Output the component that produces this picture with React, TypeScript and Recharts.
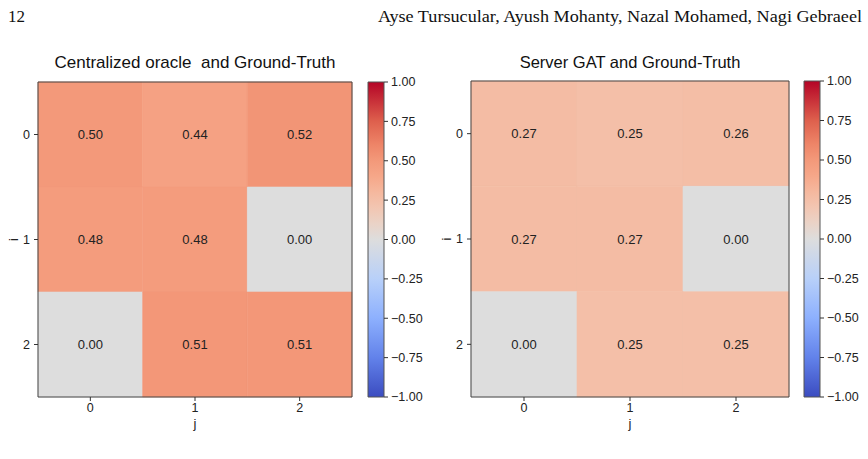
import React from 'react';
import { ScatterChart, Scatter, XAxis, YAxis, ReferenceArea } from 'recharts';

// ---- data ----
const rowIndices = [0, 1, 2];
const colIndices = [0, 1, 2];
const centralizedRow0 = [0.5, 0.44, 0.52];
const centralizedRow1 = [0.48, 0.48, 0.0];
const centralizedRow2 = [0.0, 0.51, 0.51];
const serverGatRow0 = [0.27, 0.25, 0.26];
const serverGatRow1 = [0.27, 0.27, 0.0];
const serverGatRow2 = [0.0, 0.25, 0.25];
const colorbarTicks = [-1, -0.75, -0.5, -0.25, 0, 0.25, 0.5, 0.75, 1];
const colorbarRange = [{ x: 0, y: -1 }, { x: 1, y: 1 }];
const titleLeft = 'Centralized oracle  and Ground-Truth';
const titleRight = 'Server GAT and Ground-Truth';
const pageNumber = '12';
const authors = 'Ayse Tursucular, Ayush Mohanty, Nazal Mohamed, Nagi Gebraeel';

// ---- coolwarm colormap ----
const COOLWARM: [number, [number, number, number]][] = [
  [0, [59, 76, 192]],
  [0.125, [98, 130, 234]],
  [0.25, [141, 176, 254]],
  [0.375, [184, 208, 249]],
  [0.5, [221, 221, 221]],
  [0.55, [234, 211, 199]],
  [0.6, [242, 198, 178]],
  [0.65, [245, 184, 158]],
  [0.7, [246, 167, 137]],
  [0.75, [243, 153, 122]],
  [0.8, [238, 133, 104]],
  [0.875, [222, 96, 77]],
  [1, [180, 4, 38]],
];
const rgb = (c: number[]) => `rgb(${c.map((v) => Math.round(v)).join(',')})`;
function coolwarm(v: number): string {
  const t = Math.max(0, Math.min(1, (v + 1) / 2));
  for (let k = 1; k < COOLWARM.length; k++) {
    const [p1, c1] = COOLWARM[k];
    const [p0, c0] = COOLWARM[k - 1];
    if (t <= p1) {
      const f = (t - p0) / (p1 - p0);
      return rgb(c0.map((a, i) => a + (c1[i] - a) * f));
    }
  }
  return rgb(COOLWARM[COOLWARM.length - 1][1]);
}

const fmtTick = (v: number) => (v < 0 ? '\u2212' + Math.abs(v).toFixed(2) : v.toFixed(2));

type Cell = { x: number; y: number; value: number; label: string };
function buildCells(rows: number[][]): Cell[] {
  const out: Cell[] = [];
  rowIndices.forEach((i) => {
    colIndices.forEach((j) => {
      const value = rows[i][j];
      out.push({ x: j, y: i, value, label: value.toFixed(2) });
    });
  });
  return out;
}

const FONT = '"Liberation Sans", Arial, sans-serif';
const TXT = '#222';
const tickStyle = { fontSize: 12.5, fill: TXT, fontFamily: FONT };

function Heatmap({ rows, left, width, margin }: { rows: number[][]; left: number; width: number; margin: any }) {
  const cells = buildCells(rows);
  return (
    <div style={{ position: 'absolute', left, top: 0 }}>
      <ScatterChart width={width} height={459} margin={margin}>
        <XAxis
          type="number"
          dataKey="x"
          domain={[-0.5, 2.5]}
          ticks={colIndices}
          allowDataOverflow
          height={34}
          tickSize={4}
          tickMargin={2}
          tick={tickStyle}
          axisLine={false}
          tickLine={{ stroke: '#333' }}
          label={{ value: 'j', position: 'insideBottom', offset: 3, fill: TXT, fontSize: 13, fontFamily: FONT }}
        />
        <YAxis
          type="number"
          dataKey="y"
          domain={[-0.5, 2.5]}
          ticks={rowIndices}
          reversed
          allowDataOverflow
          width={30}
          tickSize={4}
          tickMargin={4}
          tick={tickStyle}
          axisLine={false}
          tickLine={{ stroke: '#333' }}
          label={{ value: 'i', angle: -90, position: 'insideLeft', offset: 5, fill: TXT, fontSize: 13, fontFamily: FONT, style: { textAnchor: 'middle' } }}
        />
        {cells.map((c) => (
          <ReferenceArea
            key={`${c.x}-${c.y}`}
            x1={c.x - 0.5}
            x2={c.x + 0.5}
            y1={c.y - 0.5}
            y2={c.y + 0.5}
            fill={coolwarm(c.value)}
            fillOpacity={1}
            stroke={coolwarm(c.value)}
            strokeWidth={0.6}
            ifOverflow="visible"
          />
        ))}
        <ReferenceArea x1={-0.5} x2={2.5} y1={-0.5} y2={2.5} fill="none" stroke="#444" strokeWidth={1} ifOverflow="visible" />
        <Scatter
          data={cells}
          isAnimationActive={false}
          shape={(p: any) => (
            <text x={p.cx} y={p.cy} dy="0.35em" textAnchor="middle" fontSize={13} fill={TXT} fontFamily={FONT}>
              {p.payload.label}
            </text>
          )}
        />
      </ScatterChart>
    </div>
  );
}

function Colorbar({ left, id, top }: { left: number; id: string; top: number }) {
  const stops = COOLWARM.map(([p, c]) => ({ off: 1 - p, color: rgb(c) })).reverse();
  return (
    <div style={{ position: 'absolute', left, top: 0 }}>
      <ScatterChart width={80} height={459} margin={{ top, bottom: 62, left: 8, right: 0 }}>
        <defs>
          <linearGradient id={id} x1="0" y1="0" x2="0" y2="1">
            {stops.map((s, k) => (
              <stop key={k} offset={s.off} stopColor={s.color} />
            ))}
          </linearGradient>
        </defs>
        <XAxis type="number" dataKey="x" domain={[0, 1]} hide />
        <YAxis
          type="number"
          dataKey="y"
          orientation="right"
          domain={[-1, 1]}
          ticks={colorbarTicks}
          tickFormatter={fmtTick}
          interval={0}
          width={56}
          tickSize={4}
          tickMargin={3}
          tick={tickStyle}
          axisLine={false}
          tickLine={{ stroke: '#333' }}
        />
        <ReferenceArea x1={0} x2={1} y1={-1} y2={1} fill={`url(#${id})`} fillOpacity={1} stroke="#555" strokeWidth={1} />
        <Scatter data={colorbarRange} isAnimationActive={false} shape={() => <g />} />
      </ScatterChart>
    </div>
  );
}

export default function App() {
  return (
    <div style={{ position: 'absolute', left: 0, top: 0, width: 868, height: 459, background: '#fff', overflow: 'hidden' }}>
      <svg width={868} height={459} style={{ position: 'absolute', left: 0, top: 0 }}>
        <text x={8} y={22} fontSize={17} fontFamily='"Liberation Serif", "DejaVu Serif", serif' fill="#111">
          {pageNumber}
        </text>
        <text
          x={862}
          y={22}
          fontSize={17}
          textAnchor="end"
          fontFamily='"Liberation Serif", "DejaVu Serif", serif'
          fill="#111"
          textLength={484}
          lengthAdjust="spacingAndGlyphs"
        >
          {authors}
        </text>
        <text x={195} y={68} fontSize={17} textAnchor="middle" fontFamily={FONT} fill="#111" style={{ whiteSpace: 'pre' }}>
          {titleLeft}
        </text>
        <text x={630} y={68} fontSize={16.5} textAnchor="middle" fontFamily={FONT} fill="#111" style={{ whiteSpace: 'pre' }}>
          {titleRight}
        </text>
      </svg>
      <Heatmap
        rows={[centralizedRow0, centralizedRow1, centralizedRow2]}
        left={0}
        width={440}
        margin={{ top: 82, bottom: 28, left: 8, right: 88 }}
      />
      <Colorbar left={360} id="cbLeft" top={82} />
      <Heatmap
        rows={[serverGatRow0, serverGatRow1, serverGatRow2]}
        left={433}
        width={400}
        margin={{ top: 81, bottom: 28, left: 8, right: 44 }}
      />
      <Colorbar left={796} id="cbRight" top={81} />
    </div>
  );
}
